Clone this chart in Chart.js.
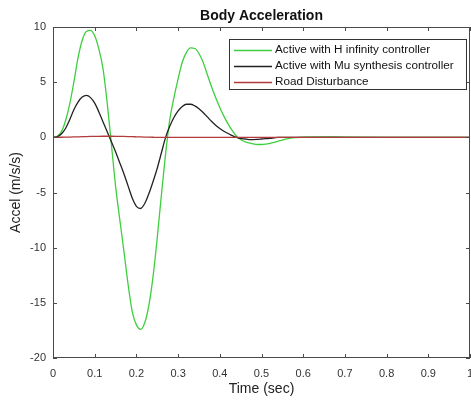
<!DOCTYPE html>
<html>
<head>
<meta charset="utf-8">
<script src="https://cdn.jsdelivr.net/npm/chart.js@4/dist/chart.umd.min.js"></script>
<style>
  body { margin: 0; background: #fff; }
</style>
</head>
<body>
<canvas id="chart_1" width="471" height="400"></canvas>
<script>
// time samples (sec)
var times = [0, 0.01, 0.02, 0.03, 0.04, 0.05, 0.06, 0.07, 0.08, 0.09,
  0.10, 0.11, 0.12, 0.13, 0.14, 0.15, 0.16, 0.17, 0.18, 0.19,
  0.20, 0.21, 0.22, 0.23, 0.24, 0.25, 0.26, 0.27, 0.28, 0.29,
  0.30, 0.31, 0.32, 0.33, 0.34, 0.35, 0.36, 0.37, 0.38, 0.39,
  0.40, 0.41, 0.42, 0.43, 0.44, 0.45, 0.46, 0.47, 0.48, 0.49,
  0.50, 0.51, 0.52, 0.53, 0.54, 0.55, 0.56, 0.57, 0.58, 0.59,
  0.60, 0.65, 0.70, 0.80, 0.90, 1.00];

// body acceleration, H infinity controller
var hInf = [0, 0.1, 0.5, 1.5, 3.0, 5.0, 7.2, 8.8, 9.6, 9.7,
  9.2, 8.0, 6.2, 3.1, -0.6, -4.4, -7.4, -10.3, -13.3, -15.8,
  -17.0, -17.4, -16.8, -15.2, -12.6, -9.1, -5.2, -1.5, 1.6, 3.6,
  5.3, 6.8, 7.7, 8.1, 8.05, 7.6, 6.8, 5.7, 4.6, 3.6,
  2.7, 1.9, 1.2, 0.6, 0.1, -0.2, -0.4, -0.5, -0.6, -0.65,
  -0.65, -0.62, -0.55, -0.45, -0.35, -0.25, -0.15, -0.08, -0.03, 0,
  0.02, 0.05, 0.02, 0, 0, 0];

// body acceleration, Mu synthesis controller
var muSyn = [0, 0.05, 0.3, 0.8, 1.6, 2.5, 3.2, 3.65, 3.8, 3.6,
  3.1, 2.3, 1.4, 0.5, -0.4, -1.3, -2.3, -3.3, -4.4, -5.5,
  -6.25, -6.45, -6.0, -5.1, -4.0, -2.8, -1.4, 0.0, 1.0, 1.8,
  2.4, 2.8, 3.0, 3.0, 2.85, 2.6, 2.25, 1.85, 1.45, 1.1,
  0.8, 0.55, 0.35, 0.15, 0.0, -0.1, -0.15, -0.2, -0.2, -0.18,
  -0.15, -0.12, -0.1, -0.05, 0, 0, 0, 0, 0, 0,
  0, 0, 0, 0, 0, 0];

// road disturbance
var road = [0, 0.002, 0.006, 0.014, 0.024, 0.035, 0.047, 0.059, 0.07, 0.08,
  0.088, 0.094, 0.098, 0.1, 0.098, 0.094, 0.088, 0.08, 0.07, 0.059,
  0.047, 0.035, 0.024, 0.014, 0.006, 0, 0, 0, 0, 0,
  0, 0, 0, 0, 0, 0, 0, 0, 0, 0,
  0, 0, 0, 0, 0, 0, 0, 0, 0, 0,
  0, 0, 0, 0, 0, 0, 0, 0, 0, 0,
  0, 0, 0, 0, 0, 0];

var seriesNames = ['Active with H infinity controller', 'Active with Mu synthesis controller', 'Road Disturbance'];
var seriesColors = ['#3ecf3e', '#222222', '#b23a3a'];

var chartTitle = 'Body Acceleration';
var xTicks = { min: 0, max: 1, step: 0.1 };
var yTicks = { min: -20, max: 10, step: 5 };

function toPoints(vals){
  var pts = [];
  for(var i = 0; i < times.length; i++){
    pts.push({ x: times[i], y: vals[i] });
  }
  return pts;
}

var fontFam = "'Liberation Sans', Arial, Helvetica, sans-serif";

// matlab style box, inward ticks, title and legend
var boxPlugin = {
  id: 'matlabBox',
  afterDraw: function(chart) {
    var ctx = chart.ctx;
    var a = chart.chartArea;
    var xs = chart.scales.x, ys = chart.scales.y;
    ctx.save();
    ctx.strokeStyle = '#4a4a4a';
    ctx.lineWidth = 1;
    ctx.strokeRect(a.left + 0.5, a.top + 0.5, a.right - a.left - 1, a.bottom - a.top - 1);
    ctx.beginPath();
    xs.ticks.forEach(function(t){
      var px = Math.round(xs.getPixelForValue(t.value)) + 0.5;
      ctx.moveTo(px, a.bottom); ctx.lineTo(px, a.bottom - 4);
      ctx.moveTo(px, a.top); ctx.lineTo(px, a.top + 4);
    });
    ys.ticks.forEach(function(t){
      var py = Math.round(ys.getPixelForValue(t.value)) + 0.5;
      ctx.moveTo(a.left, py); ctx.lineTo(a.left + 4, py);
      ctx.moveTo(a.right, py); ctx.lineTo(a.right - 4, py);
    });
    ctx.stroke();

    // title centred over the axes
    ctx.fillStyle = '#111';
    ctx.font = 'bold 14px ' + fontFam;
    ctx.textAlign = 'center';
    ctx.textBaseline = 'middle';
    ctx.fillText(chartTitle, (a.left + a.right) / 2, 16);

    // legend
    ctx.textAlign = 'left';
    ctx.font = '11.7px ' + fontFam;
    var maxW = 0;
    chart.data.datasets.forEach(function(ds){
      maxW = Math.max(maxW, ctx.measureText(ds.label).width);
    });
    var w = 46 + maxW + 12;
    var right = a.right - 4;
    var left = Math.round(right - w);
    var top = a.top + 12;
    var h = 50;
    ctx.fillStyle = '#fff';
    ctx.fillRect(left, top, right - left, h);
    ctx.strokeStyle = '#333';
    ctx.strokeRect(left + 0.5, top + 0.5, right - left, h);
    chart.data.datasets.forEach(function(ds, i){
      var yy = top + 11 + i * 16;
      ctx.strokeStyle = ds.borderColor;
      ctx.lineWidth = 1.3;
      ctx.beginPath();
      ctx.moveTo(left + 5, yy + 0.5);
      ctx.lineTo(left + 43, yy + 0.5);
      ctx.stroke();
      ctx.fillStyle = '#111';
      ctx.fillText(ds.label, left + 46, yy);
    });
    ctx.restore();
  }
};

var ctx_1 = document.getElementById('chart_1').getContext('2d');
var chart_1 = new Chart(ctx_1, {
  type: 'line',
  data: {
    datasets: [
      { label: seriesNames[0], data: toPoints(hInf), borderColor: seriesColors[0], order: 2 },
      { label: seriesNames[1], data: toPoints(muSyn), borderColor: seriesColors[1], order: 1 },
      { label: seriesNames[2], data: toPoints(road), borderColor: seriesColors[2], order: 0 }
    ]
  },
  options: {
    responsive: false,
    animation: false,
    elements: {
      point: { radius: 0 },
      line: { borderWidth: 1.3, fill: false, cubicInterpolationMode: 'monotone' }
    },
    layout: { padding: { left: 0, right: 1, top: 27, bottom: 0 } },
    plugins: {
      legend: { display: false },
      tooltip: { enabled: false },
      title: { display: false }
    },
    scales: {
      x: {
        type: 'linear',
        min: xTicks.min, max: xTicks.max,
        ticks: { stepSize: xTicks.step, autoSkip: false, maxRotation: 0, padding: 9,
                 color: '#333', font: { family: fontFam, size: 11 },
                 callback: function(v){ return String(Math.round(v * 10) / 10); } },
        grid: { display: false, drawTicks: false },
        border: { display: false },
        title: { display: true, text: 'Time (sec)', color: '#222',
                 font: { family: fontFam, size: 14 }, padding: { top: 0, bottom: 2 } },
        afterFit: function(s){ s.height = 42; s.paddingLeft = 0; s.paddingRight = 0; }
      },
      y: {
        min: yTicks.min, max: yTicks.max,
        ticks: { stepSize: yTicks.step, padding: 7,
                 color: '#333', font: { family: fontFam, size: 11 } },
        grid: { display: false, drawTicks: false },
        border: { display: false },
        title: { display: true, text: 'Accel (m/s/s)', color: '#222',
                 font: { family: fontFam, size: 14 }, padding: { top: 8, bottom: 0 } },
        afterFit: function(s){ s.width = 53; s.paddingTop = 0; s.paddingBottom = 0; }
      }
    }
  },
  plugins: [boxPlugin]
});
</script>
</body>
</html>
